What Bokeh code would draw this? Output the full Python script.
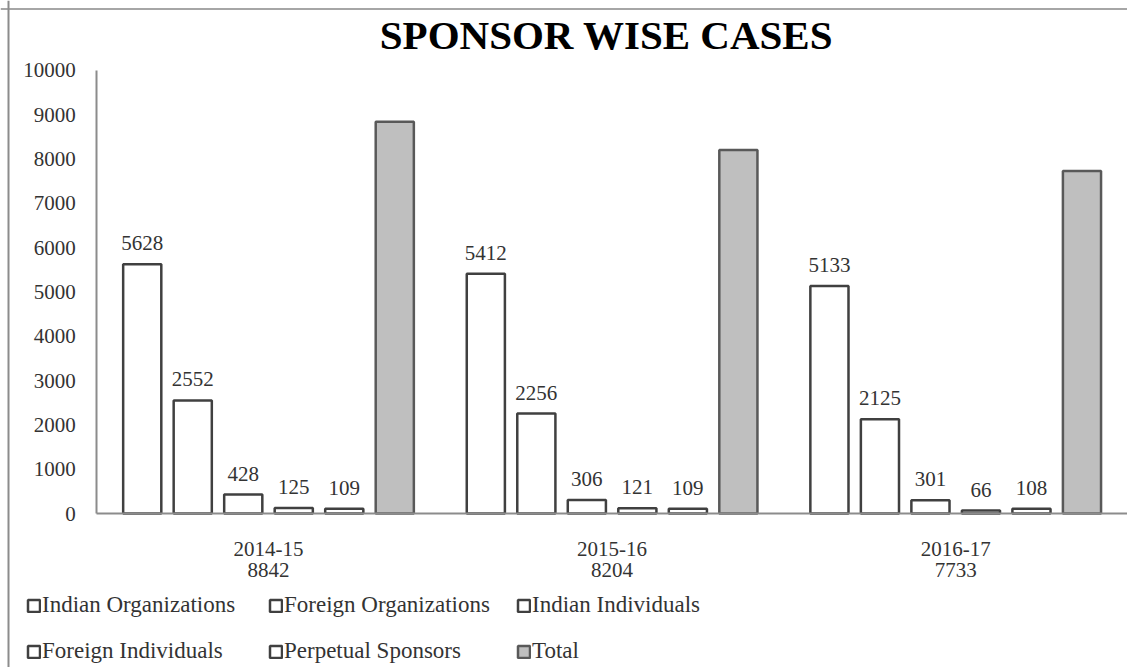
from bokeh.plotting import figure
from bokeh.models import (Range1d, SingleIntervalTicker, FixedTicker, Legend, LegendItem,
                          LabelSet, Label, ColumnDataSource, LinearAxis, Span)
from bokeh.transform import dodge
from bokeh.embed import file_html
from bokeh.resources import INLINE

years = ["2014-15", "2015-16", "2016-17"]
totals = [8842, 8204, 7733]
series = ["Indian Organizations", "Foreign Organizations", "Indian Individuals",
          "Foreign Individuals", "Perpetual Sponsors", "Total"]
indian_org = [5628, 5412, 5133]
foreign_org = [2552, 2256, 2125]
indian_ind = [428, 306, 301]
foreign_ind = [125, 121, 66]
perpetual = [109, 109, 108]
total = totals
show_label = [True, True, True, True, True, False]

values = [indian_org, foreign_org, indian_ind, foreign_ind, perpetual, total]
group_pos = list(range(len(years)))

FONT = "Liberation Serif"
TXT = "#333333"
W, H = 1127, 667
X0, X1 = -0.78, 2.5
Y0, Y1 = -3476, 11580

data = {"g": group_pos}
for i, v in enumerate(values):
    data[f"s{i}"] = v
    data[f"l{i}"] = [str(a) for a in v]
src = ColumnDataSource(data)

# frame covers the whole canvas; axes are placed at fixed data positions
p = figure(width=W, height=H, x_range=Range1d(X0, X1), y_range=Range1d(Y0, Y1),
           output_backend="svg", toolbar_location=None, x_axis_location=None,
           y_axis_location=None, min_border=0)
p.xgrid.visible = False
p.ygrid.visible = False
p.outline_line_color = None

# chart-area border (top and left edges), placed 8px in from the canvas edge
p.add_layout(Span(location=Y1 - 8.5 / H * (Y1 - Y0), dimension="width",
                  line_color="#a6a6a6", line_width=2))
p.add_layout(Span(location=X0 + 8 / W * (X1 - X0), dimension="height",
                  line_color="#8c8c8c", line_width=2))

yax = LinearAxis(fixed_location=-0.5, bounds=(0, 10000),
                 ticker=SingleIntervalTicker(interval=1000))
yax.major_tick_line_color = None
yax.minor_tick_line_color = None
yax.axis_line_color = "#8c8c8c"
yax.axis_line_width = 2
yax.major_label_text_font = FONT
yax.major_label_text_font_size = "21px"
yax.major_label_text_color = TXT
yax.major_label_standoff = 15
p.add_layout(yax, "left")

xax = LinearAxis(fixed_location=0, bounds=(-0.5, 2.5), ticker=FixedTicker(ticks=group_pos))
xax.major_label_overrides = {g: f"{y}\n{t}" for g, y, t in zip(group_pos, years, totals)}
xax.major_tick_line_color = None
xax.minor_tick_line_color = None
xax.axis_line_color = "#8c8c8c"
xax.axis_line_width = 2
xax.major_label_text_font = FONT
xax.major_label_text_font_size = "21px"
xax.major_label_text_color = TXT
xax.major_label_text_line_height = 0.9
xax.major_label_standoff = 17
p.add_layout(xax, "below")

pitch = 0.147
bw = 0.111
renderers = []
for i, name in enumerate(series):
    off = (i - 2.5) * pitch
    is_total = name == "Total"
    r = p.vbar(x=dodge("g", off), top=f"s{i}", width=bw, source=src,
               fill_color="#bfbfbf" if is_total else "#ffffff",
               line_color="#595959" if is_total else "#404040", line_width=2.5)
    renderers.append(r)
    if show_label[i]:
        p.add_layout(LabelSet(x=dodge("g", off), y=f"s{i}", text=f"l{i}",
                              source=src, text_align="center", text_baseline="alphabetic",
                              y_offset=14, text_font=FONT, text_font_size="21px",
                              text_color=TXT))

p.add_layout(Label(x=606, y=H - 34, x_units="screen", y_units="screen",
                   text="SPONSOR WISE CASES", text_align="center",
                   text_baseline="alphabetic", text_font=FONT, text_font_size="41px",
                   text_font_style="bold", text_color="#000000"))

# legend: three columns of two entries each
col_x = [26, 268, 516]
for c in range(3):
    its = [LegendItem(label=series[k], renderers=[renderers[k]]) for k in (c, c + 3)]
    lg = Legend(items=its, orientation="vertical", location=(col_x[c], 3),
                label_text_font=FONT, label_text_font_size="23px", label_text_color=TXT,
                glyph_width=15, glyph_height=15, label_standoff=1, label_height=20,
                spacing=20, padding=0, margin=0, border_line_alpha=0,
                background_fill_alpha=0)
    p.add_layout(lg, "center")

open("out.html", "w").write(file_html(p, INLINE))
